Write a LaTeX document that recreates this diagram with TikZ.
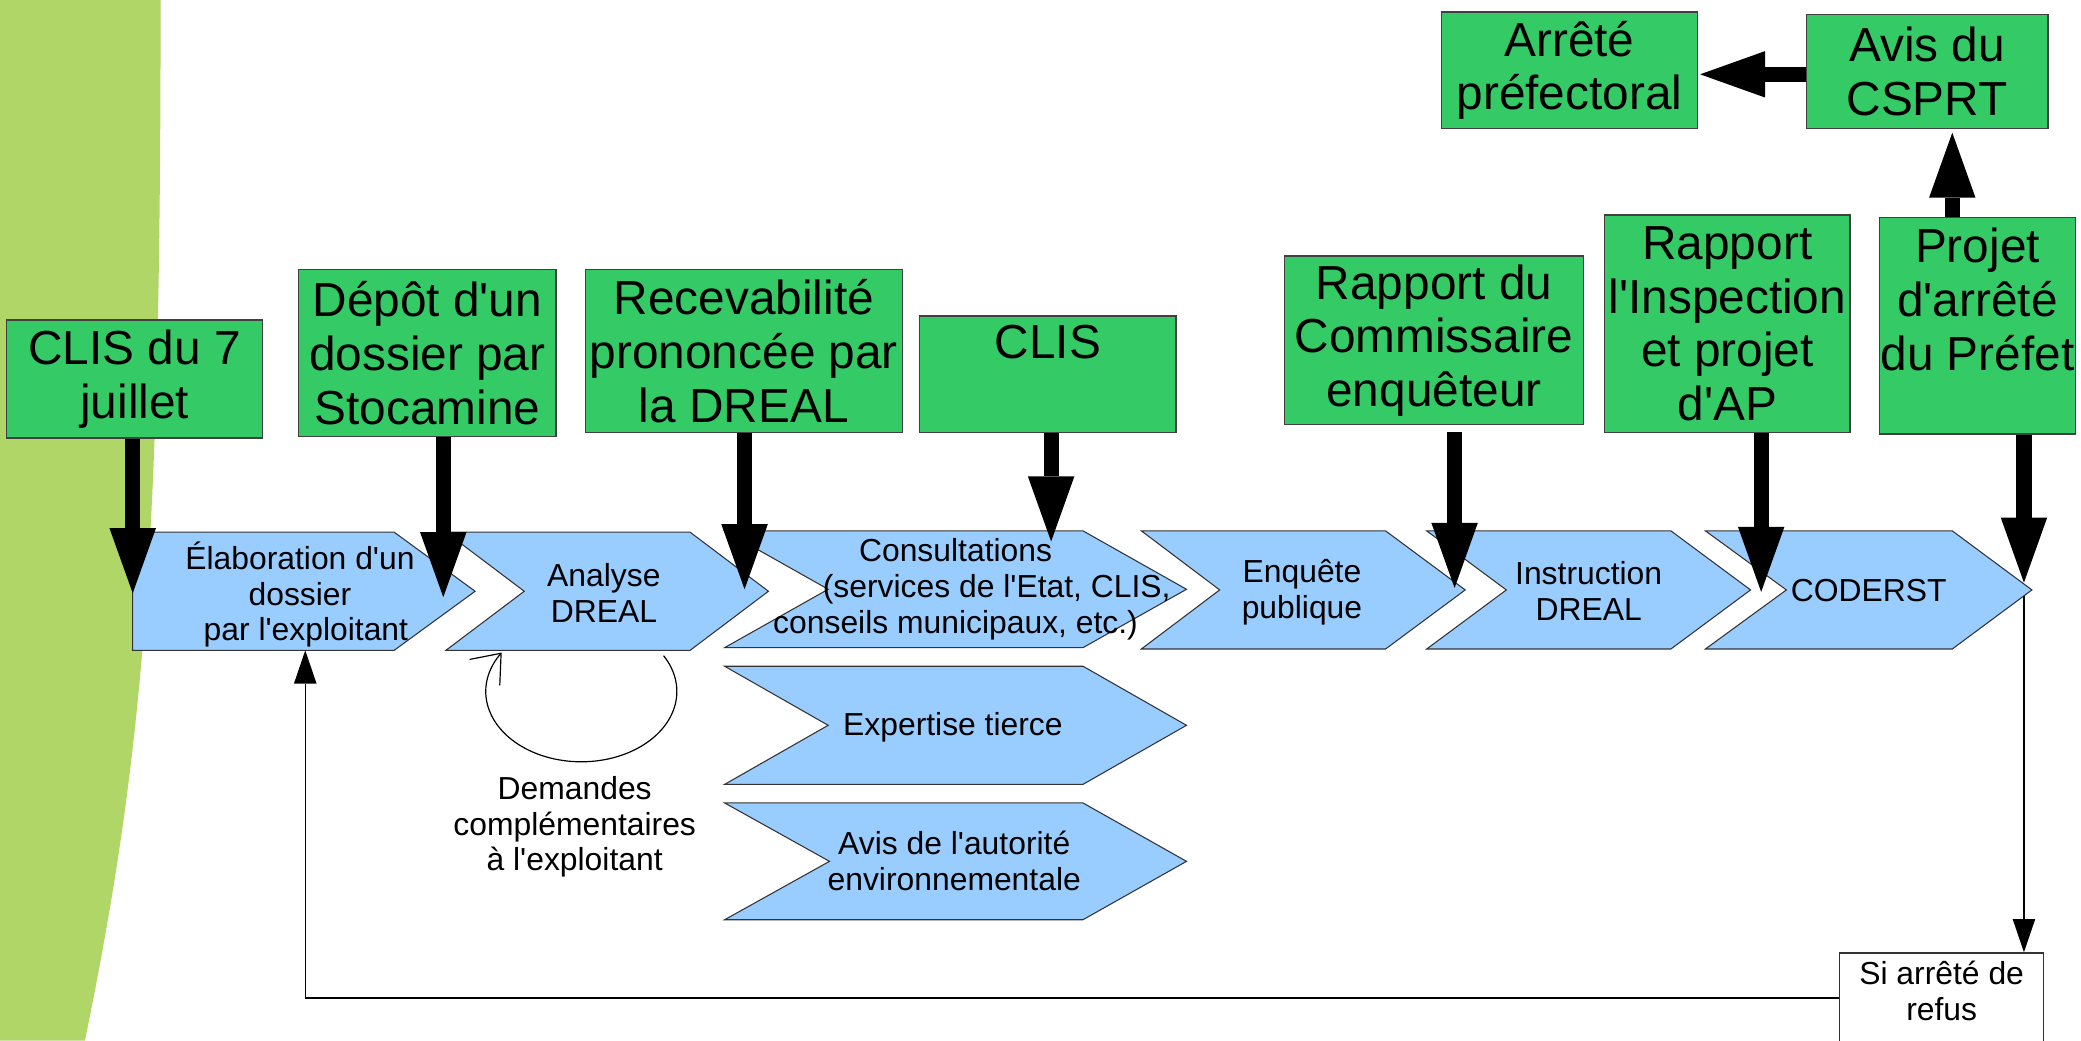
\documentclass[tikz,border=0pt]{standalone}
\usepackage{fontspec}
\setmainfont{Liberation Sans}[Ligatures=TeXOff]
\usetikzlibrary{arrows.meta,calc}
\definecolor{bggreen}{RGB}{176,214,104}
\definecolor{boxgreen}{RGB}{52,202,102}
\definecolor{chevblue}{RGB}{153,204,255}
\tikzset{
  gbox/.style={draw=black!75, line width=1pt, fill=boxgreen, inner sep=0pt, align=center,
    font=\fontsize{36}{40.5}\selectfont},
  chev/.style={draw=black!80, line width=0.8pt, fill=chevblue, line join=miter},
  stxt/.style={inner sep=0pt, align=center, font=\fontsize{24}{27}\selectfont},
  rbox/.style={draw=black!80, line width=0.9pt, fill=white, inner sep=0pt, align=center,
    font=\fontsize{24}{27}\selectfont},
  bigarrow/.style={line width=11.5pt, -{Triangle[length=49pt,width=35pt,line width=0pt]}},
  thinarrow/.style={line width=0.9pt, -{Triangle[length=25pt,width=17pt,line width=0pt]}},
  loopline/.style={line width=0.9pt, -{Straight Barb[length=19pt,width=30pt]}},
}
\begin{document}
\begin{tikzpicture}[x=1pt,y=-1pt]
\useasboundingbox (0,0) rectangle (1568,784);
\clip (0,0) rectangle (1568,784);
% background decoration
\fill[bggreen] (0,0) -- (121,0) .. controls (121,400) and (110,560) .. (64,784) -- (0,784) -- cycle;

% chevrons
\path[chev] (100,401) -- (297,401) -- (358,445.5) -- (297,490) -- (100,490) -- cycle;
\path[chev] (336,401) -- (520,401) -- (579,445.5) -- (520,490) -- (336,490) -- (395,445.5) -- cycle;
\path[chev] (546,400) -- (816,400) -- (894,444) -- (816,488) -- (546,488) -- (624,444) -- cycle;
\path[chev] (860,400) -- (1044,400) -- (1104,444.5) -- (1044,489) -- (860,489) -- (919,444.5) -- cycle;
\path[chev] (1075,400) -- (1259,400) -- (1319,444.5) -- (1259,489) -- (1075,489) -- (1135,444.5) -- cycle;
\path[chev] (1285,400) -- (1471,400) -- (1531,444.5) -- (1471,489) -- (1285,489) -- (1346,444.5) -- cycle;
\path[chev] (546,502) -- (816,502) -- (894,546.5) -- (816,591) -- (546,591) -- (624,546.5) -- cycle;
\path[chev] (546,605) -- (816,605) -- (894,649) -- (816,693) -- (546,693) -- (625,649) -- cycle;

% chevron texts
\node[stxt] (elab) at (226,448) {Élaboration d'un\\dossier\\\hspace*{9pt}par l'exploitant};
\node[stxt] (analyse) at (455,446.5) {Analyse\\DREAL};
\node[stxt] (consult) at (720,444) {Consultations\\\hspace*{62pt}(services de l'Etat, CLIS,\\conseils municipaux, etc.)};
\node[stxt] (enq) at (981,446) {Enquête\\publique};
\node[stxt] (instr) at (1197,445.5) {Instruction\\DREAL};
\node[stxt] (coderst) at (1408,445) {CODERST};
\node[stxt] (expert) at (718,548) {Expertise tierce};
\node[stxt] (avisae) at (719,649) {Avis de l'autorité\\environnementale};
\node[stxt] (demandes) at (433,623) {Demandes\\complémentaires\\à l'exploitant};

% green boxes
\node[gbox, minimum width=193pt, minimum height=89pt] (clis7) at (101.5,285.5) {CLIS du 7\\juillet};
\node[gbox, minimum width=194pt, minimum height=126pt] (depot) at (322,266) {Dépôt d'un\\dossier par\\Stocamine};
\node[gbox, minimum width=239pt, minimum height=123pt] (recev) at (560.5,264.5) {Recevabilité\\prononcée par\\la DREAL};
\node[gbox, minimum width=193pt, minimum height=88pt] (clis) at (789.5,282) {CLIS\\[8pt]~};
\node[gbox, minimum width=225pt, minimum height=127pt] (rcomm) at (1080.5,256.5) {Rapport du\\Commissaire\\enquêteur};
\node[gbox, minimum width=185pt, minimum height=164pt] (rinsp) at (1301.5,244) {Rapport\\l'Inspection\\et projet\\d'AP};
\node[gbox, minimum width=148pt, minimum height=163pt] (projet) at (1490,245.5) {Projet\\d'arrêté\\du Préfet\\~};
\node[gbox, minimum width=193pt, minimum height=88pt] (arrete) at (1182.5,53) {Arrêté\\préfectoral};
\node[gbox, minimum width=182pt, minimum height=86pt] (avis) at (1452,54) {Avis du\\CSPRT};

% refusal box
\node[rbox, minimum width=154pt, minimum height=84pt] (refus) at (1463,760) {Si arrêté de\\refus\\~};

% arrow end points
\coordinate (t1) at (100,447);
\coordinate (t2) at (334,450);
\coordinate (t3) at (561,444);
\coordinate (t4) at (792,408);
\coordinate (t5) at (1096,443);
\coordinate (t6) at (1327,446);
\coordinate (t7) at (1525,439);
\coordinate (t8) at (1471,100);
\coordinate (t9) at (1281,56);
\coordinate (coderstout) at (1525,449);
\coordinate (fb) at (230,752);
\coordinate (elabS) at (230,490);

% thick arrows
\draw[bigarrow] (clis7.south -| t1) -- (t1);
\draw[bigarrow] (depot.south -| t2) -- (t2);
\draw[bigarrow] (recev.south -| t3) -- (t3);
\draw[bigarrow] (clis.south -| t4) -- (t4);
\draw[bigarrow, shorten <=5pt] (rcomm.south -| t5) -- (t5);
\draw[bigarrow] (rinsp.south -| t6) -- (t6);
\draw[bigarrow] (projet.south -| t7) -- (t7);
\draw[bigarrow] (projet.north -| t8) -- (t8);
\draw[bigarrow] (avis.west |- t9) -- (t9);

% thin connectors
\draw[thinarrow] (coderstout) -- (refus.north -| coderstout);
\draw[thinarrow] (refus.west |- fb) -| (elabS);

% loop under Analyse DREAL
\draw[loopline] plot[domain=-30.6:213.6, samples=90, variable=\t] ({438+72*cos(\t)},{521+53*sin(\t)});
\end{tikzpicture}
\end{document}
